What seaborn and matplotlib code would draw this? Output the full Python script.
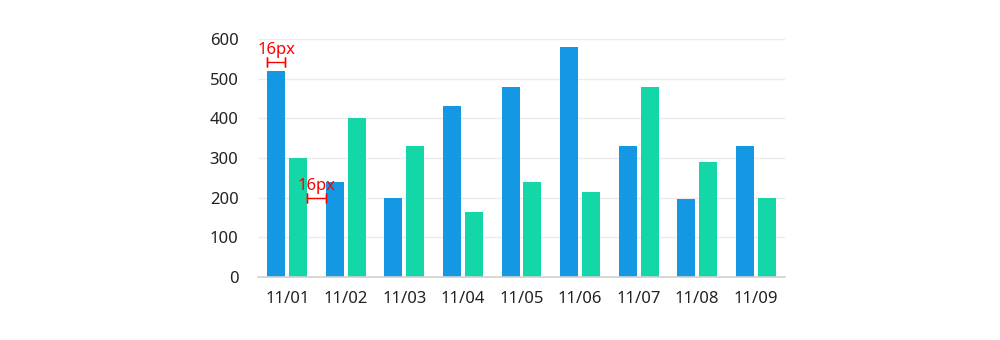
import matplotlib
matplotlib.use("Agg")
import matplotlib.pyplot as plt
import seaborn as sns
import pandas as pd
from matplotlib.transforms import offset_copy

dates = ["11/01", "11/02", "11/03", "11/04", "11/05", "11/06", "11/07", "11/08", "11/09"]
series_a = [520, 240, 200, 430, 480, 580, 330, 197, 330]
series_b = [300, 400, 330, 165, 240, 215, 480, 290, 198]
y_ticks = [0, 100, 200, 300, 400, 500, 600]

blue = "#1598E3"
green = "#13D7A6"

df = pd.DataFrame({
    "date": dates * 2,
    "value": series_a + series_b,
    "series": ["A"] * len(dates) + ["B"] * len(dates),
})

sns.set_theme(style="white")
plt.rcParams["font.family"] = ["Noto Sans", "DejaVu Sans"]

fig = plt.figure(figsize=(10, 3.4), dpi=100)
ax = fig.add_axes([0.258, 63 / 340, 0.527, 238 / 340])

sns.barplot(data=df, x="date", y="value", hue="series", order=dates,
            palette=[blue, green], width=0.75, gap=0.18, legend=False,
            saturation=1, ax=ax, errorbar=None, linewidth=0)

ax.set_ylim(0, 600)
ax.set_xlim(-0.5, len(dates) - 0.5)
ax.set_yticks(y_ticks)
ax.set_xlabel("")
ax.set_ylabel("")
ax.yaxis.grid(True, color="#ebebeb", linewidth=1)
ax.set_axisbelow(True)
for s in ["top", "right", "left"]:
    ax.spines[s].set_visible(False)
ax.spines["bottom"].set_color("#d0d0d0")
ax.spines["bottom"].set_linewidth(1.2)
ax.tick_params(axis="both", length=0, labelsize=12, colors="#222222")
ax.tick_params(axis="y", pad=14)
ax.tick_params(axis="x", pad=10)

# annotations anchored to bar positions
bars = sorted([p for p in ax.patches if p.get_height() > 0], key=lambda p: p.get_x())
first_a, first_b, second_a = bars[0], bars[1], bars[2]

red = "#ff0000"


def bracket(x0, x1, y, text):
    trans = offset_copy(ax.transData, fig=fig, x=0, y=0, units="dots")
    ax.plot([x0, x1], [y, y], color=red, lw=1, transform=trans, clip_on=False)
    for xx in (x0, x1):
        ax.plot([xx, xx], [y, y], marker="|", markersize=7, color=red,
                mew=1, transform=trans, clip_on=False)
    ax.annotate(text, xy=((x0 + x1) / 2, y), xytext=(0, 3),
                textcoords="offset points", ha="center", va="bottom",
                color=red, fontsize=12, annotation_clip=False)


y1 = first_a.get_height() + 9 / (238 / 600)
bracket(first_a.get_x(), first_a.get_x() + first_a.get_width(), y1, "16px")

gap_x0 = first_b.get_x() + first_b.get_width()
gap_x1 = second_a.get_x()
y2 = second_a.get_height() - 16 / (238 / 600)
bracket(gap_x0, gap_x1, y2, "16px")

fig.savefig("out.png", dpi=100, facecolor="white")
